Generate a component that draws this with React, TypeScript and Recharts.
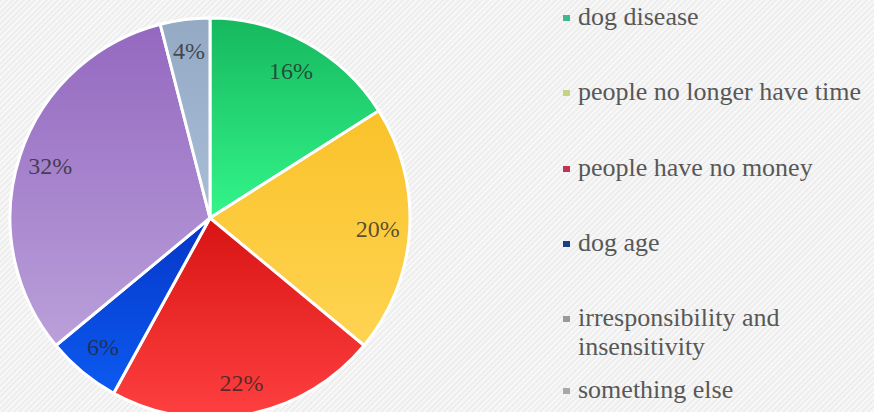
import React from 'react';
import { PieChart, Pie, Cell, Legend } from 'recharts';

const categories = [
  'dog disease',
  'people no longer have time',
  'people have no money',
  'dog age',
  'irresponsibility and insensitivity',
  'something else',
];
const shares = [16, 20, 22, 6, 32, 4];

// slice gradients: top colour, bottom colour
const sliceTop = ['#16b85e', '#f9c22a', '#d81414', '#0536c8', '#9468c0', '#93a9c4'];
const sliceBottom = ['#33f58a', '#ffd452', '#ff4040', '#0c5af0', '#baa0da', '#a9bdd6'];
const legendColors = ['#3fb88c', '#c9d27e', '#c23352', '#1c3c8c', '#9a9a9a', '#a8a8a8'];

const data = categories.map((name, i) => ({ name, value: shares[i] }));

const RAD = Math.PI / 180;
const SERIF = '"Liberation Serif", "Times New Roman", serif';

const renderLabel = (props: any) => {
  const { cx, cy, midAngle, outerRadius, value } = props;
  const r = outerRadius * 0.84;
  const x = cx + r * Math.cos(-midAngle * RAD);
  const y = cy + r * Math.sin(-midAngle * RAD);
  return (
    <text
      x={x}
      y={y}
      textAnchor="middle"
      dominantBaseline="central"
      style={{ fontFamily: SERIF }}
      fontSize={24}
      fill="#262626"
      fillOpacity={0.75}
    >
      {value}%
    </text>
  );
};

// legend rows (top of each row, px)
const rowTops = [2, 77, 153, 228, 303, 375];

const renderLegend = () => (
  <div style={{ position: 'relative', width: 310, height: 412 }}>
    {categories.map((c, i) => (
      <div
        key={c}
        style={{
          position: 'absolute',
          top: rowTops[i],
          left: 0,
          display: 'flex',
          alignItems: 'flex-start',
          fontFamily: SERIF,
          fontSize: 26,
          lineHeight: '29px',
          color: '#585858',
        }}
      >
        <span
          style={{
            display: 'inline-block',
            width: 7,
            height: 6,
            background: legendColors[i],
            marginTop: 13,
            marginRight: 8,
            flexShrink: 0,
          }}
        />
        <span style={{ width: 292 }}>{c}</span>
      </div>
    ))}
  </div>
);

export default function App() {
  return (
    <div
      style={{
        position: 'absolute',
        top: 0,
        left: 0,
        width: 874,
        height: 412,
        overflow: 'hidden',
        background:
          'repeating-linear-gradient(135deg, #eeeeee 0px, #eeeeee 2px, #f7f7f7 2px, #f7f7f7 4px)',
      }}
    >
      <PieChart width={874} height={412} margin={{ top: 0, right: 0, bottom: 0, left: 0 }}>
        <defs>
          {sliceTop.map((c, i) => (
            <linearGradient key={i} id={`slice${i}`} x1="0" y1="0" x2="0" y2="1">
              <stop offset="0%" stopColor={c} />
              <stop offset="100%" stopColor={sliceBottom[i]} />
            </linearGradient>
          ))}
        </defs>
        <Pie
          data={data}
          dataKey="value"
          nameKey="name"
          cx={210}
          cy={218}
          outerRadius={200}
          startAngle={90}
          endAngle={-270}
          stroke="#ffffff"
          strokeWidth={3}
          label={renderLabel}
          labelLine={false}
          isAnimationActive={false}
        >
          {data.map((d, i) => (
            <Cell key={d.name} fill={`url(#slice${i})`} />
          ))}
        </Pie>
        <Legend
          content={renderLegend}
          wrapperStyle={{ position: 'absolute', left: 563, top: 0, width: 311, height: 412 }}
        />
      </PieChart>
    </div>
  );
}
